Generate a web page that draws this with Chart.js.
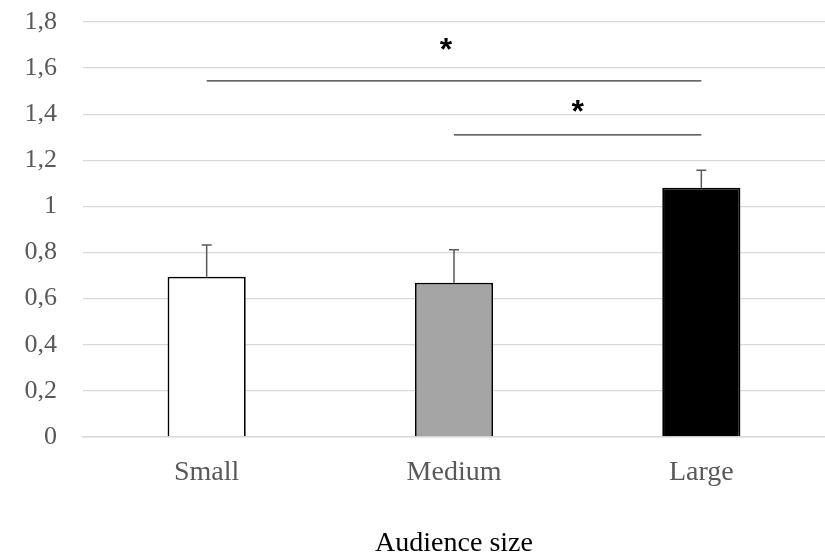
<!DOCTYPE html>
<html>
<head>
<meta charset="utf-8">
<script src="https://cdn.jsdelivr.net/npm/chart.js@4/dist/chart.umd.min.js"></script>
<style>
  html, body { margin: 0; padding: 0; background: #fff; }
  #wrap { width: 825px; height: 560px; }
</style>
</head>
<body>
<div id="wrap"><canvas id="chart"></canvas></div>
<script>
// data
var categories = ["Small", "Medium", "Large"];
var means = [0.695, 0.669, 1.081];
var errTop = [0.833, 0.812, 1.157];
var barColors = ["#ffffff", "#a5a5a5", "#000000"];

// significance brackets: from category, to category, height
var sigFrom = [0, 1];
var sigTo = [2, 2];
var sigY = [1.545, 1.31];
var starX = [0.968, 1.5];
var starY = [1.69, 1.42];

var yTicks = [0, 0.2, 0.4, 0.6, 0.8, 1, 1.2, 1.4, 1.6, 1.8];

var overlay = {
  id: "overlay",
  afterDatasetsDraw: function (chart) {
    var ctx = chart.ctx;
    var x = chart.scales.x;
    var y = chart.scales.y;
    ctx.save();
    // error bars
    ctx.strokeStyle = "#595959";
    ctx.lineWidth = 1.5;
    for (var i = 0; i < means.length; i++) {
      var px = x.getPixelForValue(i);
      var y0 = y.getPixelForValue(means[i]);
      var y1 = y.getPixelForValue(errTop[i]);
      ctx.beginPath();
      ctx.moveTo(px, y0);
      ctx.lineTo(px, y1);
      ctx.moveTo(px - 5, y1);
      ctx.lineTo(px + 5, y1);
      ctx.stroke();
    }
    // brackets
    ctx.strokeStyle = "#333333";
    ctx.lineWidth = 1.3;
    for (var j = 0; j < sigFrom.length; j++) {
      var yy = y.getPixelForValue(sigY[j]);
      ctx.beginPath();
      ctx.moveTo(x.getPixelForValue(sigFrom[j]), yy);
      ctx.lineTo(x.getPixelForValue(sigTo[j]), yy);
      ctx.stroke();
    }
    ctx.fillStyle = "#000";
    ctx.font = "bold 32px 'Liberation Sans'";
    ctx.textAlign = "center";
    ctx.textBaseline = "middle";
    for (var k = 0; k < starX.length; k++) {
      ctx.fillText("*", x.getPixelForValue(starX[k]), y.getPixelForValue(starY[k]) + 4);
    }
    ctx.restore();
  }
};

new Chart(document.getElementById("chart"), {
  type: "bar",
  data: {
    labels: categories,
    datasets: [{
      data: means,
      backgroundColor: barColors,
      borderColor: "#000000",
      borderWidth: 1.8,
      categoryPercentage: 1,
      barPercentage: 0.316
    }]
  },
  options: {
    responsive: true,
    maintainAspectRatio: false,
    animation: false,
    layout: { padding: 0 },
    plugins: {
      legend: { display: false },
      tooltip: { enabled: false }
    },
    scales: {
      x: {
        grid: { display: false },
        border: { color: "#d9d9d9", width: 1.5 },
        ticks: {
          color: "#595959",
          padding: 11,
          font: { family: "'Liberation Serif'", size: 28 }
        },
        title: {
          display: true,
          text: "Audience size",
          color: "#000000",
          padding: { top: 0, bottom: 0 },
          font: { family: "'Liberation Serif'", size: 28 }
        },
        afterFit: function (scale) {
          scale.height = 123;
          scale.paddingLeft = 0;
          scale.paddingRight = 0;
        }
      },
      y: {
        min: 0,
        max: 1.8,
        afterBuildTicks: function (scale) {
          scale.ticks = yTicks.map(function (v) { return { value: v }; });
        },
        grid: { color: "#d9d9d9", lineWidth: 1.3, drawTicks: false },
        border: { display: false },
        ticks: {
          color: "#595959",
          padding: 26,
          font: { family: "'Liberation Serif'", size: 26 },
          callback: function (v) { return String(Math.round(v * 10) / 10).replace(".", ","); }
        },
        afterFit: function (scale) {
          scale.width = 83;
          scale.paddingTop = 22;
          scale.paddingBottom = 0;
        }
      }
    }
  },
  plugins: [overlay]
});
</script>
</body>
</html>
